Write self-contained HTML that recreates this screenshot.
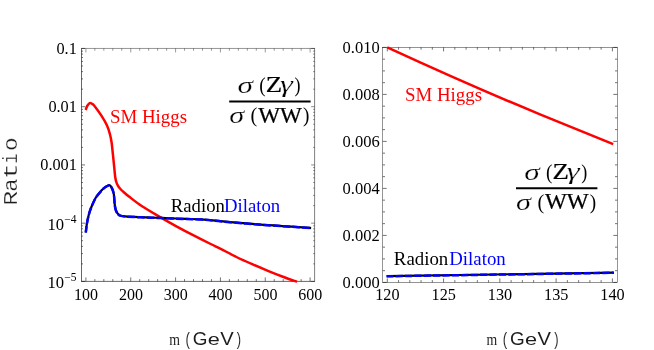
<!DOCTYPE html>
<html><head><meta charset="utf-8"><title>plot</title>
<style>
html,body{margin:0;padding:0;background:#fff;}
body{width:654px;height:350px;overflow:hidden;font-family:"Liberation Serif",serif;}
svg{display:block;will-change:transform;}
</style></head>
<body>
<svg width="654" height="350" viewBox="0 0 654 350">
<rect width="654" height="350" fill="#ffffff"/>
<line x1="85.90" y1="281.40" x2="85.90" y2="277.40" stroke="#000" stroke-width="0.55"/>
<line x1="85.90" y1="48.45" x2="85.90" y2="52.45" stroke="#000" stroke-width="0.4"/>
<line x1="94.87" y1="281.40" x2="94.87" y2="279.10" stroke="#000" stroke-width="0.55"/>
<line x1="94.87" y1="48.45" x2="94.87" y2="50.75" stroke="#000" stroke-width="0.4"/>
<line x1="103.84" y1="281.40" x2="103.84" y2="279.10" stroke="#000" stroke-width="0.55"/>
<line x1="103.84" y1="48.45" x2="103.84" y2="50.75" stroke="#000" stroke-width="0.4"/>
<line x1="112.80" y1="281.40" x2="112.80" y2="279.10" stroke="#000" stroke-width="0.55"/>
<line x1="112.80" y1="48.45" x2="112.80" y2="50.75" stroke="#000" stroke-width="0.4"/>
<line x1="121.77" y1="281.40" x2="121.77" y2="279.10" stroke="#000" stroke-width="0.55"/>
<line x1="121.77" y1="48.45" x2="121.77" y2="50.75" stroke="#000" stroke-width="0.4"/>
<line x1="130.74" y1="281.40" x2="130.74" y2="277.40" stroke="#000" stroke-width="0.55"/>
<line x1="130.74" y1="48.45" x2="130.74" y2="52.45" stroke="#000" stroke-width="0.4"/>
<line x1="139.71" y1="281.40" x2="139.71" y2="279.10" stroke="#000" stroke-width="0.55"/>
<line x1="139.71" y1="48.45" x2="139.71" y2="50.75" stroke="#000" stroke-width="0.4"/>
<line x1="148.68" y1="281.40" x2="148.68" y2="279.10" stroke="#000" stroke-width="0.55"/>
<line x1="148.68" y1="48.45" x2="148.68" y2="50.75" stroke="#000" stroke-width="0.4"/>
<line x1="157.64" y1="281.40" x2="157.64" y2="279.10" stroke="#000" stroke-width="0.55"/>
<line x1="157.64" y1="48.45" x2="157.64" y2="50.75" stroke="#000" stroke-width="0.4"/>
<line x1="166.61" y1="281.40" x2="166.61" y2="279.10" stroke="#000" stroke-width="0.55"/>
<line x1="166.61" y1="48.45" x2="166.61" y2="50.75" stroke="#000" stroke-width="0.4"/>
<line x1="175.58" y1="281.40" x2="175.58" y2="277.40" stroke="#000" stroke-width="0.55"/>
<line x1="175.58" y1="48.45" x2="175.58" y2="52.45" stroke="#000" stroke-width="0.4"/>
<line x1="184.55" y1="281.40" x2="184.55" y2="279.10" stroke="#000" stroke-width="0.55"/>
<line x1="184.55" y1="48.45" x2="184.55" y2="50.75" stroke="#000" stroke-width="0.4"/>
<line x1="193.52" y1="281.40" x2="193.52" y2="279.10" stroke="#000" stroke-width="0.55"/>
<line x1="193.52" y1="48.45" x2="193.52" y2="50.75" stroke="#000" stroke-width="0.4"/>
<line x1="202.48" y1="281.40" x2="202.48" y2="279.10" stroke="#000" stroke-width="0.55"/>
<line x1="202.48" y1="48.45" x2="202.48" y2="50.75" stroke="#000" stroke-width="0.4"/>
<line x1="211.45" y1="281.40" x2="211.45" y2="279.10" stroke="#000" stroke-width="0.55"/>
<line x1="211.45" y1="48.45" x2="211.45" y2="50.75" stroke="#000" stroke-width="0.4"/>
<line x1="220.42" y1="281.40" x2="220.42" y2="277.40" stroke="#000" stroke-width="0.55"/>
<line x1="220.42" y1="48.45" x2="220.42" y2="52.45" stroke="#000" stroke-width="0.4"/>
<line x1="229.39" y1="281.40" x2="229.39" y2="279.10" stroke="#000" stroke-width="0.55"/>
<line x1="229.39" y1="48.45" x2="229.39" y2="50.75" stroke="#000" stroke-width="0.4"/>
<line x1="238.36" y1="281.40" x2="238.36" y2="279.10" stroke="#000" stroke-width="0.55"/>
<line x1="238.36" y1="48.45" x2="238.36" y2="50.75" stroke="#000" stroke-width="0.4"/>
<line x1="247.32" y1="281.40" x2="247.32" y2="279.10" stroke="#000" stroke-width="0.55"/>
<line x1="247.32" y1="48.45" x2="247.32" y2="50.75" stroke="#000" stroke-width="0.4"/>
<line x1="256.29" y1="281.40" x2="256.29" y2="279.10" stroke="#000" stroke-width="0.55"/>
<line x1="256.29" y1="48.45" x2="256.29" y2="50.75" stroke="#000" stroke-width="0.4"/>
<line x1="265.26" y1="281.40" x2="265.26" y2="277.40" stroke="#000" stroke-width="0.55"/>
<line x1="265.26" y1="48.45" x2="265.26" y2="52.45" stroke="#000" stroke-width="0.4"/>
<line x1="274.23" y1="281.40" x2="274.23" y2="279.10" stroke="#000" stroke-width="0.55"/>
<line x1="274.23" y1="48.45" x2="274.23" y2="50.75" stroke="#000" stroke-width="0.4"/>
<line x1="283.20" y1="281.40" x2="283.20" y2="279.10" stroke="#000" stroke-width="0.55"/>
<line x1="283.20" y1="48.45" x2="283.20" y2="50.75" stroke="#000" stroke-width="0.4"/>
<line x1="292.16" y1="281.40" x2="292.16" y2="279.10" stroke="#000" stroke-width="0.55"/>
<line x1="292.16" y1="48.45" x2="292.16" y2="50.75" stroke="#000" stroke-width="0.4"/>
<line x1="301.13" y1="281.40" x2="301.13" y2="279.10" stroke="#000" stroke-width="0.55"/>
<line x1="301.13" y1="48.45" x2="301.13" y2="50.75" stroke="#000" stroke-width="0.4"/>
<line x1="310.10" y1="281.40" x2="310.10" y2="277.40" stroke="#000" stroke-width="0.55"/>
<line x1="310.10" y1="48.45" x2="310.10" y2="52.45" stroke="#000" stroke-width="0.4"/>
<line x1="81.50" y1="281.40" x2="85.00" y2="281.40" stroke="#000" stroke-width="0.55"/>
<line x1="314.60" y1="281.40" x2="311.10" y2="281.40" stroke="#000" stroke-width="0.45"/>
<line x1="81.50" y1="263.87" x2="83.00" y2="263.87" stroke="#000" stroke-width="0.55"/>
<line x1="314.60" y1="263.87" x2="313.10" y2="263.87" stroke="#000" stroke-width="0.45"/>
<line x1="81.50" y1="253.61" x2="83.00" y2="253.61" stroke="#000" stroke-width="0.55"/>
<line x1="314.60" y1="253.61" x2="313.10" y2="253.61" stroke="#000" stroke-width="0.45"/>
<line x1="81.50" y1="246.34" x2="83.00" y2="246.34" stroke="#000" stroke-width="0.55"/>
<line x1="314.60" y1="246.34" x2="313.10" y2="246.34" stroke="#000" stroke-width="0.45"/>
<line x1="81.50" y1="240.69" x2="83.00" y2="240.69" stroke="#000" stroke-width="0.55"/>
<line x1="314.60" y1="240.69" x2="313.10" y2="240.69" stroke="#000" stroke-width="0.45"/>
<line x1="81.50" y1="236.08" x2="83.00" y2="236.08" stroke="#000" stroke-width="0.55"/>
<line x1="314.60" y1="236.08" x2="313.10" y2="236.08" stroke="#000" stroke-width="0.45"/>
<line x1="81.50" y1="232.18" x2="83.00" y2="232.18" stroke="#000" stroke-width="0.55"/>
<line x1="314.60" y1="232.18" x2="313.10" y2="232.18" stroke="#000" stroke-width="0.45"/>
<line x1="81.50" y1="228.81" x2="83.00" y2="228.81" stroke="#000" stroke-width="0.55"/>
<line x1="314.60" y1="228.81" x2="313.10" y2="228.81" stroke="#000" stroke-width="0.45"/>
<line x1="81.50" y1="225.83" x2="83.00" y2="225.83" stroke="#000" stroke-width="0.55"/>
<line x1="314.60" y1="225.83" x2="313.10" y2="225.83" stroke="#000" stroke-width="0.45"/>
<line x1="81.50" y1="223.16" x2="85.00" y2="223.16" stroke="#000" stroke-width="0.55"/>
<line x1="314.60" y1="223.16" x2="311.10" y2="223.16" stroke="#000" stroke-width="0.45"/>
<line x1="81.50" y1="205.63" x2="83.00" y2="205.63" stroke="#000" stroke-width="0.55"/>
<line x1="314.60" y1="205.63" x2="313.10" y2="205.63" stroke="#000" stroke-width="0.45"/>
<line x1="81.50" y1="195.38" x2="83.00" y2="195.38" stroke="#000" stroke-width="0.55"/>
<line x1="314.60" y1="195.38" x2="313.10" y2="195.38" stroke="#000" stroke-width="0.45"/>
<line x1="81.50" y1="188.10" x2="83.00" y2="188.10" stroke="#000" stroke-width="0.55"/>
<line x1="314.60" y1="188.10" x2="313.10" y2="188.10" stroke="#000" stroke-width="0.45"/>
<line x1="81.50" y1="182.46" x2="83.00" y2="182.46" stroke="#000" stroke-width="0.55"/>
<line x1="314.60" y1="182.46" x2="313.10" y2="182.46" stroke="#000" stroke-width="0.45"/>
<line x1="81.50" y1="177.84" x2="83.00" y2="177.84" stroke="#000" stroke-width="0.55"/>
<line x1="314.60" y1="177.84" x2="313.10" y2="177.84" stroke="#000" stroke-width="0.45"/>
<line x1="81.50" y1="173.95" x2="83.00" y2="173.95" stroke="#000" stroke-width="0.55"/>
<line x1="314.60" y1="173.95" x2="313.10" y2="173.95" stroke="#000" stroke-width="0.45"/>
<line x1="81.50" y1="170.57" x2="83.00" y2="170.57" stroke="#000" stroke-width="0.55"/>
<line x1="314.60" y1="170.57" x2="313.10" y2="170.57" stroke="#000" stroke-width="0.45"/>
<line x1="81.50" y1="167.59" x2="83.00" y2="167.59" stroke="#000" stroke-width="0.55"/>
<line x1="314.60" y1="167.59" x2="313.10" y2="167.59" stroke="#000" stroke-width="0.45"/>
<line x1="81.50" y1="164.93" x2="85.00" y2="164.93" stroke="#000" stroke-width="0.55"/>
<line x1="314.60" y1="164.93" x2="311.10" y2="164.93" stroke="#000" stroke-width="0.45"/>
<line x1="81.50" y1="147.39" x2="83.00" y2="147.39" stroke="#000" stroke-width="0.55"/>
<line x1="314.60" y1="147.39" x2="313.10" y2="147.39" stroke="#000" stroke-width="0.45"/>
<line x1="81.50" y1="137.14" x2="83.00" y2="137.14" stroke="#000" stroke-width="0.55"/>
<line x1="314.60" y1="137.14" x2="313.10" y2="137.14" stroke="#000" stroke-width="0.45"/>
<line x1="81.50" y1="129.86" x2="83.00" y2="129.86" stroke="#000" stroke-width="0.55"/>
<line x1="314.60" y1="129.86" x2="313.10" y2="129.86" stroke="#000" stroke-width="0.45"/>
<line x1="81.50" y1="124.22" x2="83.00" y2="124.22" stroke="#000" stroke-width="0.55"/>
<line x1="314.60" y1="124.22" x2="313.10" y2="124.22" stroke="#000" stroke-width="0.45"/>
<line x1="81.50" y1="119.61" x2="83.00" y2="119.61" stroke="#000" stroke-width="0.55"/>
<line x1="314.60" y1="119.61" x2="313.10" y2="119.61" stroke="#000" stroke-width="0.45"/>
<line x1="81.50" y1="115.71" x2="83.00" y2="115.71" stroke="#000" stroke-width="0.55"/>
<line x1="314.60" y1="115.71" x2="313.10" y2="115.71" stroke="#000" stroke-width="0.45"/>
<line x1="81.50" y1="112.33" x2="83.00" y2="112.33" stroke="#000" stroke-width="0.55"/>
<line x1="314.60" y1="112.33" x2="313.10" y2="112.33" stroke="#000" stroke-width="0.45"/>
<line x1="81.50" y1="109.35" x2="83.00" y2="109.35" stroke="#000" stroke-width="0.55"/>
<line x1="314.60" y1="109.35" x2="313.10" y2="109.35" stroke="#000" stroke-width="0.45"/>
<line x1="81.50" y1="106.69" x2="85.00" y2="106.69" stroke="#000" stroke-width="0.55"/>
<line x1="314.60" y1="106.69" x2="311.10" y2="106.69" stroke="#000" stroke-width="0.45"/>
<line x1="81.50" y1="89.16" x2="83.00" y2="89.16" stroke="#000" stroke-width="0.55"/>
<line x1="314.60" y1="89.16" x2="313.10" y2="89.16" stroke="#000" stroke-width="0.45"/>
<line x1="81.50" y1="78.90" x2="83.00" y2="78.90" stroke="#000" stroke-width="0.55"/>
<line x1="314.60" y1="78.90" x2="313.10" y2="78.90" stroke="#000" stroke-width="0.45"/>
<line x1="81.50" y1="71.63" x2="83.00" y2="71.63" stroke="#000" stroke-width="0.55"/>
<line x1="314.60" y1="71.63" x2="313.10" y2="71.63" stroke="#000" stroke-width="0.45"/>
<line x1="81.50" y1="65.98" x2="83.00" y2="65.98" stroke="#000" stroke-width="0.55"/>
<line x1="314.60" y1="65.98" x2="313.10" y2="65.98" stroke="#000" stroke-width="0.45"/>
<line x1="81.50" y1="61.37" x2="83.00" y2="61.37" stroke="#000" stroke-width="0.55"/>
<line x1="314.60" y1="61.37" x2="313.10" y2="61.37" stroke="#000" stroke-width="0.45"/>
<line x1="81.50" y1="57.47" x2="83.00" y2="57.47" stroke="#000" stroke-width="0.55"/>
<line x1="314.60" y1="57.47" x2="313.10" y2="57.47" stroke="#000" stroke-width="0.45"/>
<line x1="81.50" y1="54.09" x2="83.00" y2="54.09" stroke="#000" stroke-width="0.55"/>
<line x1="314.60" y1="54.09" x2="313.10" y2="54.09" stroke="#000" stroke-width="0.45"/>
<line x1="81.50" y1="51.11" x2="83.00" y2="51.11" stroke="#000" stroke-width="0.55"/>
<line x1="314.60" y1="51.11" x2="313.10" y2="51.11" stroke="#000" stroke-width="0.45"/>
<line x1="81.50" y1="48.45" x2="85.00" y2="48.45" stroke="#000" stroke-width="0.55"/>
<line x1="314.60" y1="48.45" x2="311.10" y2="48.45" stroke="#000" stroke-width="0.45"/>
<line x1="81.50" y1="48.25" x2="81.50" y2="281.60" stroke="#000" stroke-width="0.6"/>
<line x1="81.30" y1="281.40" x2="314.80" y2="281.40" stroke="#000" stroke-width="0.6"/>
<line x1="81.30" y1="48.45" x2="314.80" y2="48.45" stroke="#000" stroke-width="0.42"/>
<line x1="314.60" y1="48.25" x2="314.60" y2="281.60" stroke="#000" stroke-width="0.5"/>
<text x="86.05" y="300.00" font-family="'Liberation Serif', serif" font-size="16" fill="#000" text-anchor="middle" >100</text>
<text x="130.89" y="300.00" font-family="'Liberation Serif', serif" font-size="16" fill="#000" text-anchor="middle" >200</text>
<text x="175.73" y="300.00" font-family="'Liberation Serif', serif" font-size="16" fill="#000" text-anchor="middle" >300</text>
<text x="220.57" y="300.00" font-family="'Liberation Serif', serif" font-size="16" fill="#000" text-anchor="middle" >400</text>
<text x="265.41" y="300.00" font-family="'Liberation Serif', serif" font-size="16" fill="#000" text-anchor="middle" >500</text>
<text x="310.25" y="300.00" font-family="'Liberation Serif', serif" font-size="16" fill="#000" text-anchor="middle" >600</text>
<text x="76.80" y="53.60" font-family="'Liberation Serif', serif" font-size="16.3" fill="#000" text-anchor="end" >0.1</text>
<text x="76.90" y="111.84" font-family="'Liberation Serif', serif" font-size="16.3" fill="#000" text-anchor="end" >0.01</text>
<text x="76.90" y="170.08" font-family="'Liberation Serif', serif" font-size="16.3" fill="#000" text-anchor="end" >0.001</text>
<text x="47.40" y="229.86" font-family="'Liberation Serif', serif" font-size="16.6" fill="#000" text-anchor="start" >10</text>
<text x="64.30" y="222.56" font-family="'Liberation Serif', serif" font-size="11.5" fill="#000" text-anchor="start" >−4</text>
<text x="47.40" y="288.10" font-family="'Liberation Serif', serif" font-size="16.6" fill="#000" text-anchor="start" >10</text>
<text x="64.30" y="280.80" font-family="'Liberation Serif', serif" font-size="11.5" fill="#000" text-anchor="start" >−5</text>
<path d="M85.70,110.00 C85.95,109.33 86.53,107.15 87.20,106.00 C87.87,104.85 88.90,103.47 89.70,103.10 C90.50,102.73 91.23,103.37 92.00,103.80 C92.77,104.23 92.73,103.72 94.30,105.70 C95.87,107.68 99.27,112.37 101.40,115.70 C103.53,119.03 105.67,122.57 107.10,125.70 C108.53,128.83 109.25,131.70 110.00,134.50 C110.75,137.30 111.12,139.20 111.60,142.50 C112.08,145.80 112.47,150.20 112.90,154.30 C113.33,158.40 113.82,163.32 114.20,167.10 C114.58,170.88 114.85,174.52 115.20,177.00 C115.55,179.48 115.85,180.55 116.30,182.00 C116.75,183.45 117.28,184.62 117.90,185.70 C118.52,186.78 119.17,187.55 120.00,188.50 C120.83,189.45 121.35,190.02 122.90,191.40 C124.45,192.78 126.10,194.32 129.30,196.80 C132.50,199.28 137.10,203.00 142.10,206.30 C147.10,209.60 153.58,213.27 159.30,216.60 C165.02,219.93 170.68,223.17 176.40,226.30 C182.12,229.43 187.88,232.45 193.60,235.40 C199.32,238.35 206.18,241.77 210.70,244.00 C215.22,246.23 216.42,246.63 220.70,248.80 C224.98,250.97 231.15,254.43 236.40,257.00 C241.65,259.57 246.95,261.90 252.20,264.20 C257.45,266.50 262.67,268.67 267.90,270.80 C273.13,272.93 278.75,275.17 283.60,277.00 C288.45,278.83 294.77,281.00 297.00,281.80" fill="none" stroke="#ff0000" stroke-width="2.5"/>
<path d="M85.80,232.60 C85.95,231.33 86.35,227.33 86.70,225.00 C87.05,222.67 87.43,220.70 87.90,218.60 C88.37,216.50 88.92,214.32 89.50,212.40 C90.08,210.48 90.37,209.52 91.40,207.10 C92.43,204.68 94.03,200.63 95.70,197.90 C97.37,195.17 99.82,192.48 101.40,190.70 C102.98,188.92 104.00,188.08 105.20,187.20 C106.40,186.32 107.70,185.57 108.60,185.40 C109.50,185.23 110.02,185.67 110.60,186.20 C111.18,186.73 111.65,187.63 112.10,188.60 C112.55,189.57 112.98,190.82 113.30,192.00 C113.62,193.18 113.77,193.65 114.00,195.70 C114.23,197.75 114.47,202.15 114.70,204.30 C114.93,206.45 115.12,207.38 115.40,208.60 C115.68,209.82 115.98,210.70 116.40,211.60 C116.82,212.50 117.30,213.33 117.90,214.00 C118.50,214.67 118.77,215.18 120.00,215.60 C121.23,216.02 121.87,216.22 125.30,216.50 C128.73,216.78 135.50,217.07 140.60,217.30 C145.70,217.53 150.80,217.70 155.90,217.90 C161.00,218.10 166.10,218.32 171.20,218.50 C176.30,218.68 181.42,218.82 186.50,219.00 C191.58,219.18 196.40,219.25 201.70,219.60 C207.00,219.95 212.47,220.57 218.30,221.10 C224.13,221.63 230.58,222.27 236.70,222.80 C242.82,223.33 248.88,223.83 255.00,224.30 C261.12,224.77 267.28,225.18 273.40,225.60 C279.52,226.02 285.58,226.38 291.70,226.80 C297.82,227.22 307.03,227.88 310.10,228.10 L311.1,228.2" fill="none" stroke="#000" stroke-width="2.2" transform="translate(0,-0.15)"/>
<path d="M85.80,232.60 C85.95,231.33 86.35,227.33 86.70,225.00 C87.05,222.67 87.43,220.70 87.90,218.60 C88.37,216.50 88.92,214.32 89.50,212.40 C90.08,210.48 90.37,209.52 91.40,207.10 C92.43,204.68 94.03,200.63 95.70,197.90 C97.37,195.17 99.82,192.48 101.40,190.70 C102.98,188.92 104.00,188.08 105.20,187.20 C106.40,186.32 107.70,185.57 108.60,185.40 C109.50,185.23 110.02,185.67 110.60,186.20 C111.18,186.73 111.65,187.63 112.10,188.60 C112.55,189.57 112.98,190.82 113.30,192.00 C113.62,193.18 113.77,193.65 114.00,195.70 C114.23,197.75 114.47,202.15 114.70,204.30 C114.93,206.45 115.12,207.38 115.40,208.60 C115.68,209.82 115.98,210.70 116.40,211.60 C116.82,212.50 117.30,213.33 117.90,214.00 C118.50,214.67 118.77,215.18 120.00,215.60 C121.23,216.02 121.87,216.22 125.30,216.50 C128.73,216.78 135.50,217.07 140.60,217.30 C145.70,217.53 150.80,217.70 155.90,217.90 C161.00,218.10 166.10,218.32 171.20,218.50 C176.30,218.68 181.42,218.82 186.50,219.00 C191.58,219.18 196.40,219.25 201.70,219.60 C207.00,219.95 212.47,220.57 218.30,221.10 C224.13,221.63 230.58,222.27 236.70,222.80 C242.82,223.33 248.88,223.83 255.00,224.30 C261.12,224.77 267.28,225.18 273.40,225.60 C279.52,226.02 285.58,226.38 291.70,226.80 C297.82,227.22 307.03,227.88 310.10,228.10" fill="none" stroke="#0000ff" stroke-width="2.5" stroke-dasharray="7.5 2.23" stroke-dashoffset="1.2"/>
<text transform="translate(109.97,122.50) scale(1.0105,1)" font-family="'Liberation Serif', serif" font-size="18.70" fill="#ff0000" >SM Higgs</text>
<text transform="translate(170.84,211.60) scale(1.0274,1)" font-family="'Liberation Serif', serif" font-size="18.20" fill="#000" >Radion</text>
<text transform="translate(223.94,211.60) scale(1.0320,1)" font-family="'Liberation Serif', serif" font-size="18.20" fill="#0000ff" >Dilaton</text>
<line x1="229.20" y1="101.50" x2="310.60" y2="101.50" stroke="#000" stroke-width="1.9"/>
<text transform="translate(237.56,92.70) scale(1.4042,1)" font-family="'Liberation Serif', serif" font-size="22.30" font-style="italic" fill="#000" stroke="#fff" stroke-width="0.22">σ</text>
<text transform="translate(259.24,92.20) scale(0.8734,1)" font-family="'Liberation Serif', serif" font-size="22.00" fill="#000" >(</text>
<text transform="translate(265.66,92.40) scale(1.2042,1)" font-family="'Liberation Serif', serif" font-size="22.20" fill="#000" stroke="#000" stroke-width="0.25">Z</text>
<text transform="translate(279.95,92.30) scale(1.4199,1)" font-family="'Liberation Serif', serif" font-size="23.00" font-style="italic" fill="#000" stroke="#fff" stroke-width="0.22">γ</text>
<text transform="translate(294.56,92.20) scale(0.8217,1)" font-family="'Liberation Serif', serif" font-size="22.00" fill="#000" >)</text>
<text transform="translate(229.29,122.90) scale(1.3589,1)" font-family="'Liberation Serif', serif" font-size="22.30" font-style="italic" fill="#000" stroke="#fff" stroke-width="0.22">σ</text>
<text transform="translate(250.58,122.40) scale(0.9269,1)" font-family="'Liberation Serif', serif" font-size="22.00" fill="#000" >(</text>
<text transform="translate(258.20,122.60) scale(1.0057,1)" font-family="'Liberation Serif', serif" font-size="23.00" fill="#000" stroke="#000" stroke-width="0.25">WW</text>
<text transform="translate(302.92,122.40) scale(0.8741,1)" font-family="'Liberation Serif', serif" font-size="22.00" fill="#000" >)</text>
<g transform="translate(0,210) rotate(-90)">
<text transform="translate(4.16,16.75) scale(1.2449,1)" font-family="'Liberation Mono', serif" font-size="20.00" fill="#1c1c1c" stroke="#fff" stroke-width="0.28">R</text>
<text transform="translate(18.21,16.75) scale(1.1100,1)" font-family="'Liberation Mono', serif" font-size="20.00" fill="#1c1c1c" stroke="#fff" stroke-width="0.28">a</text>
<text transform="translate(31.06,16.75) scale(1.3125,1)" font-family="'Liberation Mono', serif" font-size="20.00" fill="#1c1c1c" stroke="#fff" stroke-width="0.28">t</text>
<text transform="translate(46.23,16.75) scale(0.8750,1)" font-family="'Liberation Mono', serif" font-size="20.00" fill="#1c1c1c" stroke="#fff" stroke-width="0.28">i</text>
<text transform="translate(58.97,16.75) scale(1.1383,1)" font-family="'Liberation Mono', serif" font-size="20.00" fill="#1c1c1c" stroke="#fff" stroke-width="0.28">o</text>
</g>
<text transform="translate(169.22,344.60) scale(0.8306,1)" font-family="'Liberation Serif', serif" font-size="16.60" fill="#1c1c1c" >m</text>
<text transform="translate(185.41,344.55) scale(0.7017,1)" font-family="'Liberation Sans', serif" font-size="18.82" fill="#1c1c1c" stroke="#fff" stroke-width="0.1">(</text>
<text transform="translate(192.65,344.52) scale(1.0584,1)" font-family="'Liberation Sans', serif" font-size="17.89" fill="#1c1c1c" >G</text>
<text transform="translate(207.72,344.53) scale(1.2985,1)" font-family="'Liberation Sans', serif" font-size="16.73" fill="#1c1c1c" >e</text>
<text transform="translate(220.20,344.50) scale(1.1214,1)" font-family="'Liberation Sans', serif" font-size="17.97" fill="#1c1c1c" >V</text>
<text transform="translate(236.87,344.55) scale(0.6947,1)" font-family="'Liberation Sans', serif" font-size="18.82" fill="#1c1c1c" stroke="#fff" stroke-width="0.1">)</text>
<line x1="387.30" y1="282.40" x2="387.30" y2="278.40" stroke="#000" stroke-width="0.55"/>
<line x1="387.30" y1="47.40" x2="387.30" y2="51.40" stroke="#000" stroke-width="0.55"/>
<line x1="398.56" y1="282.40" x2="398.56" y2="280.10" stroke="#000" stroke-width="0.55"/>
<line x1="398.56" y1="47.40" x2="398.56" y2="49.70" stroke="#000" stroke-width="0.55"/>
<line x1="409.81" y1="282.40" x2="409.81" y2="280.10" stroke="#000" stroke-width="0.55"/>
<line x1="409.81" y1="47.40" x2="409.81" y2="49.70" stroke="#000" stroke-width="0.55"/>
<line x1="421.06" y1="282.40" x2="421.06" y2="280.10" stroke="#000" stroke-width="0.55"/>
<line x1="421.06" y1="47.40" x2="421.06" y2="49.70" stroke="#000" stroke-width="0.55"/>
<line x1="432.32" y1="282.40" x2="432.32" y2="280.10" stroke="#000" stroke-width="0.55"/>
<line x1="432.32" y1="47.40" x2="432.32" y2="49.70" stroke="#000" stroke-width="0.55"/>
<line x1="443.57" y1="282.40" x2="443.57" y2="278.40" stroke="#000" stroke-width="0.55"/>
<line x1="443.57" y1="47.40" x2="443.57" y2="51.40" stroke="#000" stroke-width="0.55"/>
<line x1="454.83" y1="282.40" x2="454.83" y2="280.10" stroke="#000" stroke-width="0.55"/>
<line x1="454.83" y1="47.40" x2="454.83" y2="49.70" stroke="#000" stroke-width="0.55"/>
<line x1="466.09" y1="282.40" x2="466.09" y2="280.10" stroke="#000" stroke-width="0.55"/>
<line x1="466.09" y1="47.40" x2="466.09" y2="49.70" stroke="#000" stroke-width="0.55"/>
<line x1="477.34" y1="282.40" x2="477.34" y2="280.10" stroke="#000" stroke-width="0.55"/>
<line x1="477.34" y1="47.40" x2="477.34" y2="49.70" stroke="#000" stroke-width="0.55"/>
<line x1="488.60" y1="282.40" x2="488.60" y2="280.10" stroke="#000" stroke-width="0.55"/>
<line x1="488.60" y1="47.40" x2="488.60" y2="49.70" stroke="#000" stroke-width="0.55"/>
<line x1="499.85" y1="282.40" x2="499.85" y2="278.40" stroke="#000" stroke-width="0.55"/>
<line x1="499.85" y1="47.40" x2="499.85" y2="51.40" stroke="#000" stroke-width="0.55"/>
<line x1="511.11" y1="282.40" x2="511.11" y2="280.10" stroke="#000" stroke-width="0.55"/>
<line x1="511.11" y1="47.40" x2="511.11" y2="49.70" stroke="#000" stroke-width="0.55"/>
<line x1="522.36" y1="282.40" x2="522.36" y2="280.10" stroke="#000" stroke-width="0.55"/>
<line x1="522.36" y1="47.40" x2="522.36" y2="49.70" stroke="#000" stroke-width="0.55"/>
<line x1="533.62" y1="282.40" x2="533.62" y2="280.10" stroke="#000" stroke-width="0.55"/>
<line x1="533.62" y1="47.40" x2="533.62" y2="49.70" stroke="#000" stroke-width="0.55"/>
<line x1="544.87" y1="282.40" x2="544.87" y2="280.10" stroke="#000" stroke-width="0.55"/>
<line x1="544.87" y1="47.40" x2="544.87" y2="49.70" stroke="#000" stroke-width="0.55"/>
<line x1="556.12" y1="282.40" x2="556.12" y2="278.40" stroke="#000" stroke-width="0.55"/>
<line x1="556.12" y1="47.40" x2="556.12" y2="51.40" stroke="#000" stroke-width="0.55"/>
<line x1="567.38" y1="282.40" x2="567.38" y2="280.10" stroke="#000" stroke-width="0.55"/>
<line x1="567.38" y1="47.40" x2="567.38" y2="49.70" stroke="#000" stroke-width="0.55"/>
<line x1="578.63" y1="282.40" x2="578.63" y2="280.10" stroke="#000" stroke-width="0.55"/>
<line x1="578.63" y1="47.40" x2="578.63" y2="49.70" stroke="#000" stroke-width="0.55"/>
<line x1="589.89" y1="282.40" x2="589.89" y2="280.10" stroke="#000" stroke-width="0.55"/>
<line x1="589.89" y1="47.40" x2="589.89" y2="49.70" stroke="#000" stroke-width="0.55"/>
<line x1="601.14" y1="282.40" x2="601.14" y2="280.10" stroke="#000" stroke-width="0.55"/>
<line x1="601.14" y1="47.40" x2="601.14" y2="49.70" stroke="#000" stroke-width="0.55"/>
<line x1="612.40" y1="282.40" x2="612.40" y2="278.40" stroke="#000" stroke-width="0.55"/>
<line x1="612.40" y1="47.40" x2="612.40" y2="51.40" stroke="#000" stroke-width="0.55"/>
<line x1="382.70" y1="282.40" x2="386.70" y2="282.40" stroke="#000" stroke-width="0.55"/>
<line x1="617.30" y1="282.40" x2="613.30" y2="282.40" stroke="#000" stroke-width="0.55"/>
<line x1="382.70" y1="270.65" x2="385.00" y2="270.65" stroke="#000" stroke-width="0.55"/>
<line x1="617.30" y1="270.65" x2="615.00" y2="270.65" stroke="#000" stroke-width="0.55"/>
<line x1="382.70" y1="258.90" x2="385.00" y2="258.90" stroke="#000" stroke-width="0.55"/>
<line x1="617.30" y1="258.90" x2="615.00" y2="258.90" stroke="#000" stroke-width="0.55"/>
<line x1="382.70" y1="247.15" x2="385.00" y2="247.15" stroke="#000" stroke-width="0.55"/>
<line x1="617.30" y1="247.15" x2="615.00" y2="247.15" stroke="#000" stroke-width="0.55"/>
<line x1="382.70" y1="235.40" x2="386.70" y2="235.40" stroke="#000" stroke-width="0.55"/>
<line x1="617.30" y1="235.40" x2="613.30" y2="235.40" stroke="#000" stroke-width="0.55"/>
<line x1="382.70" y1="223.65" x2="385.00" y2="223.65" stroke="#000" stroke-width="0.55"/>
<line x1="617.30" y1="223.65" x2="615.00" y2="223.65" stroke="#000" stroke-width="0.55"/>
<line x1="382.70" y1="211.90" x2="385.00" y2="211.90" stroke="#000" stroke-width="0.55"/>
<line x1="617.30" y1="211.90" x2="615.00" y2="211.90" stroke="#000" stroke-width="0.55"/>
<line x1="382.70" y1="200.15" x2="385.00" y2="200.15" stroke="#000" stroke-width="0.55"/>
<line x1="617.30" y1="200.15" x2="615.00" y2="200.15" stroke="#000" stroke-width="0.55"/>
<line x1="382.70" y1="188.40" x2="386.70" y2="188.40" stroke="#000" stroke-width="0.55"/>
<line x1="617.30" y1="188.40" x2="613.30" y2="188.40" stroke="#000" stroke-width="0.55"/>
<line x1="382.70" y1="176.65" x2="385.00" y2="176.65" stroke="#000" stroke-width="0.55"/>
<line x1="617.30" y1="176.65" x2="615.00" y2="176.65" stroke="#000" stroke-width="0.55"/>
<line x1="382.70" y1="164.90" x2="385.00" y2="164.90" stroke="#000" stroke-width="0.55"/>
<line x1="617.30" y1="164.90" x2="615.00" y2="164.90" stroke="#000" stroke-width="0.55"/>
<line x1="382.70" y1="153.15" x2="385.00" y2="153.15" stroke="#000" stroke-width="0.55"/>
<line x1="617.30" y1="153.15" x2="615.00" y2="153.15" stroke="#000" stroke-width="0.55"/>
<line x1="382.70" y1="141.40" x2="386.70" y2="141.40" stroke="#000" stroke-width="0.55"/>
<line x1="617.30" y1="141.40" x2="613.30" y2="141.40" stroke="#000" stroke-width="0.55"/>
<line x1="382.70" y1="129.65" x2="385.00" y2="129.65" stroke="#000" stroke-width="0.55"/>
<line x1="617.30" y1="129.65" x2="615.00" y2="129.65" stroke="#000" stroke-width="0.55"/>
<line x1="382.70" y1="117.90" x2="385.00" y2="117.90" stroke="#000" stroke-width="0.55"/>
<line x1="617.30" y1="117.90" x2="615.00" y2="117.90" stroke="#000" stroke-width="0.55"/>
<line x1="382.70" y1="106.15" x2="385.00" y2="106.15" stroke="#000" stroke-width="0.55"/>
<line x1="617.30" y1="106.15" x2="615.00" y2="106.15" stroke="#000" stroke-width="0.55"/>
<line x1="382.70" y1="94.40" x2="386.70" y2="94.40" stroke="#000" stroke-width="0.55"/>
<line x1="617.30" y1="94.40" x2="613.30" y2="94.40" stroke="#000" stroke-width="0.55"/>
<line x1="382.70" y1="82.65" x2="385.00" y2="82.65" stroke="#000" stroke-width="0.55"/>
<line x1="617.30" y1="82.65" x2="615.00" y2="82.65" stroke="#000" stroke-width="0.55"/>
<line x1="382.70" y1="70.90" x2="385.00" y2="70.90" stroke="#000" stroke-width="0.55"/>
<line x1="617.30" y1="70.90" x2="615.00" y2="70.90" stroke="#000" stroke-width="0.55"/>
<line x1="382.70" y1="59.15" x2="385.00" y2="59.15" stroke="#000" stroke-width="0.55"/>
<line x1="617.30" y1="59.15" x2="615.00" y2="59.15" stroke="#000" stroke-width="0.55"/>
<line x1="382.70" y1="47.40" x2="386.70" y2="47.40" stroke="#000" stroke-width="0.55"/>
<line x1="617.30" y1="47.40" x2="613.30" y2="47.40" stroke="#000" stroke-width="0.55"/>
<rect x="382.7" y="47.4" width="234.60" height="235.00" fill="none" stroke="#000" stroke-width="0.42"/>
<text x="387.40" y="300.20" font-family="'Liberation Serif', serif" font-size="16.2" fill="#000" text-anchor="middle" >120</text>
<text x="443.68" y="300.20" font-family="'Liberation Serif', serif" font-size="16.2" fill="#000" text-anchor="middle" >125</text>
<text x="499.95" y="300.20" font-family="'Liberation Serif', serif" font-size="16.2" fill="#000" text-anchor="middle" >130</text>
<text x="556.23" y="300.20" font-family="'Liberation Serif', serif" font-size="16.2" fill="#000" text-anchor="middle" >135</text>
<text x="612.50" y="300.20" font-family="'Liberation Serif', serif" font-size="16.2" fill="#000" text-anchor="middle" >140</text>
<text x="379.70" y="288.10" font-family="'Liberation Serif', serif" font-size="16.5" fill="#000" text-anchor="end" >0.000</text>
<text x="379.70" y="241.10" font-family="'Liberation Serif', serif" font-size="16.5" fill="#000" text-anchor="end" >0.002</text>
<text x="379.70" y="194.10" font-family="'Liberation Serif', serif" font-size="16.5" fill="#000" text-anchor="end" >0.004</text>
<text x="379.70" y="147.10" font-family="'Liberation Serif', serif" font-size="16.5" fill="#000" text-anchor="end" >0.006</text>
<text x="379.70" y="100.10" font-family="'Liberation Serif', serif" font-size="16.5" fill="#000" text-anchor="end" >0.008</text>
<text x="379.70" y="53.10" font-family="'Liberation Serif', serif" font-size="16.5" fill="#000" text-anchor="end" >0.010</text>
<path d="M387.3,47.4 Q470,85.6 540,114.3 T613.2,144.2" fill="none" stroke="#ff0000" stroke-width="2.5"/>
<path d="M386.6,276.15 L613.5,272.65" fill="none" stroke="#000" stroke-width="2.2"/>
<path d="M386.6,276.3 L614.0,272.8" fill="none" stroke="#0000ff" stroke-width="2.5" stroke-dasharray="7.2 2.2" stroke-dashoffset="0.5"/>
<text transform="translate(404.97,100.50) scale(1.0105,1)" font-family="'Liberation Serif', serif" font-size="18.70" fill="#ff0000" >SM Higgs</text>
<text transform="translate(393.83,265.00) scale(1.0352,1)" font-family="'Liberation Serif', serif" font-size="18.20" fill="#000" >Radion</text>
<text transform="translate(449.23,265.00) scale(1.0357,1)" font-family="'Liberation Serif', serif" font-size="18.20" fill="#0000ff" >Dilaton</text>
<line x1="516.00" y1="188.30" x2="597.40" y2="188.30" stroke="#000" stroke-width="1.9"/>
<text transform="translate(524.36,179.50) scale(1.4042,1)" font-family="'Liberation Serif', serif" font-size="22.30" font-style="italic" fill="#000" stroke="#fff" stroke-width="0.22">σ</text>
<text transform="translate(546.04,179.00) scale(0.8734,1)" font-family="'Liberation Serif', serif" font-size="22.00" fill="#000" >(</text>
<text transform="translate(552.46,179.20) scale(1.2042,1)" font-family="'Liberation Serif', serif" font-size="22.20" fill="#000" stroke="#000" stroke-width="0.25">Z</text>
<text transform="translate(566.75,179.10) scale(1.4199,1)" font-family="'Liberation Serif', serif" font-size="23.00" font-style="italic" fill="#000" stroke="#fff" stroke-width="0.22">γ</text>
<text transform="translate(581.36,179.00) scale(0.8217,1)" font-family="'Liberation Serif', serif" font-size="22.00" fill="#000" >)</text>
<text transform="translate(516.09,209.70) scale(1.3589,1)" font-family="'Liberation Serif', serif" font-size="22.30" font-style="italic" fill="#000" stroke="#fff" stroke-width="0.22">σ</text>
<text transform="translate(537.38,209.20) scale(0.9269,1)" font-family="'Liberation Serif', serif" font-size="22.00" fill="#000" >(</text>
<text transform="translate(545.00,209.40) scale(1.0057,1)" font-family="'Liberation Serif', serif" font-size="23.00" fill="#000" stroke="#000" stroke-width="0.25">WW</text>
<text transform="translate(589.72,209.20) scale(0.8741,1)" font-family="'Liberation Serif', serif" font-size="22.00" fill="#000" >)</text>
<text transform="translate(486.52,344.60) scale(0.8306,1)" font-family="'Liberation Serif', serif" font-size="16.60" fill="#1c1c1c" >m</text>
<text transform="translate(502.71,344.55) scale(0.7017,1)" font-family="'Liberation Sans', serif" font-size="18.82" fill="#1c1c1c" stroke="#fff" stroke-width="0.1">(</text>
<text transform="translate(509.95,344.52) scale(1.0584,1)" font-family="'Liberation Sans', serif" font-size="17.89" fill="#1c1c1c" >G</text>
<text transform="translate(525.02,344.53) scale(1.2985,1)" font-family="'Liberation Sans', serif" font-size="16.73" fill="#1c1c1c" >e</text>
<text transform="translate(537.50,344.50) scale(1.1214,1)" font-family="'Liberation Sans', serif" font-size="17.97" fill="#1c1c1c" >V</text>
<text transform="translate(554.17,344.55) scale(0.6947,1)" font-family="'Liberation Sans', serif" font-size="18.82" fill="#1c1c1c" stroke="#fff" stroke-width="0.1">)</text>
</svg>
</body></html>
